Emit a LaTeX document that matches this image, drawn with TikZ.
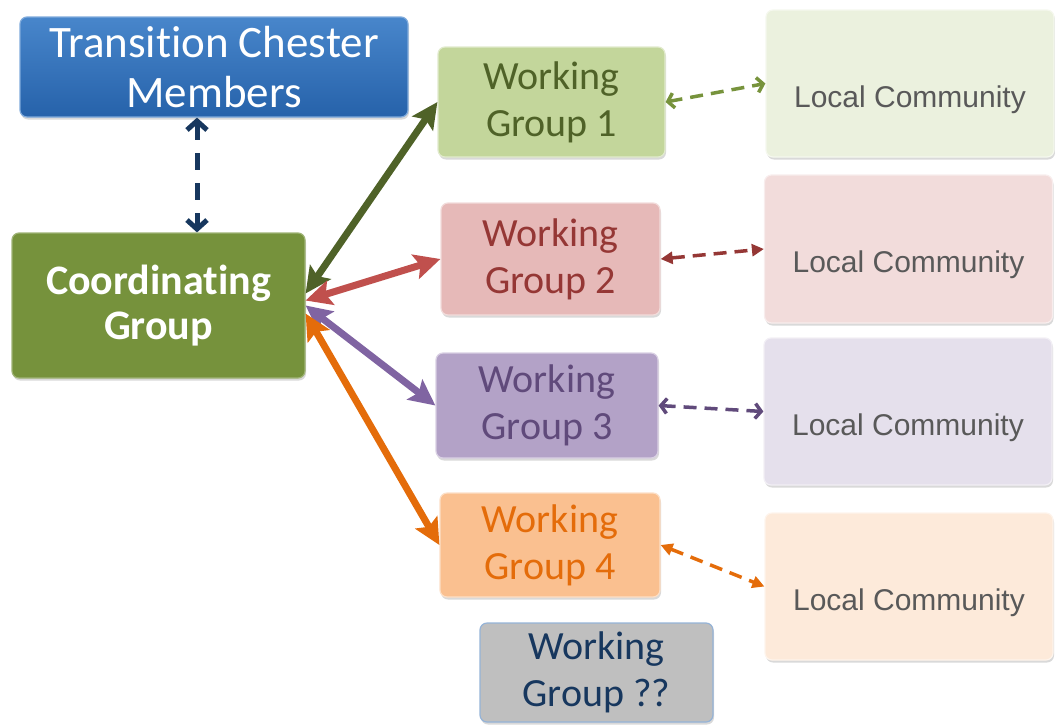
\documentclass[tikz,border=0pt]{standalone}
\usepackage{fontspec}
\setmainfont{Carlito}[Ligatures={NoCommon}]
\newfontfamily\lcfont{Liberation Sans}
\usetikzlibrary{arrows.meta,shadows}

% box colours
\definecolor{tctop}{RGB}{72,134,203}
\definecolor{tcbot}{RGB}{38,98,170}
\definecolor{cgfill}{RGB}{118,146,60}
\definecolor{wgafill}{RGB}{195,214,155}
\definecolor{wgbfill}{RGB}{230,185,184}
\definecolor{wgcfill}{RGB}{179,162,199}
\definecolor{wgdfill}{RGB}{250,192,144}
\definecolor{wgqfill}{RGB}{191,191,191}
\definecolor{wgqedge}{RGB}{149,179,215}
\definecolor{lcafill}{RGB}{235,241,222}
\definecolor{lcbfill}{RGB}{242,220,219}
\definecolor{lccfill}{RGB}{229,224,236}
\definecolor{lcdfill}{RGB}{253,234,218}
% text and line colours
\definecolor{olive}{RGB}{79,98,40}
\definecolor{leaf}{RGB}{119,147,60}
\definecolor{brick}{RGB}{192,80,77}
\definecolor{wine}{RGB}{149,55,53}
\definecolor{violet}{RGB}{128,100,162}
\definecolor{plum}{RGB}{96,74,123}
\definecolor{amber}{RGB}{228,108,10}
\definecolor{navy}{RGB}{23,55,94}
\definecolor{lcgrey}{RGB}{89,89,89}

\begin{document}
\begin{tikzpicture}[x=1pt, y=-1pt,
    box/.style={rectangle, rounded corners=7pt, inner sep=0pt, line width=1.2pt,
        drop shadow={shadow xshift=1pt, shadow yshift=-2.5pt, opacity=.3}},
    wgbox/.style={box, align=center, font=\fontsize{40}{47}\selectfont},
    lcbox/.style={box, minimum width=288pt, minimum height=147pt, text=lcgrey,
        font=\lcfont\fontsize{30}{36}\selectfont, text height=47pt, text depth=0pt},
    link/.style={line width=7pt, {Stealth[length=26pt,width=25pt,inset=5pt]}-{Stealth[length=26pt,width=25pt,inset=5pt]}},
    barb/.style={line width=3.5pt, dash pattern=on 13pt off 8pt,
        {Straight Barb[length=6pt,width=15pt]}-{Straight Barb[length=6pt,width=15pt]}},
    tri/.style={line width=3.5pt, dash pattern=on 13pt off 8pt,
        {Triangle[length=12pt,width=12pt]}-{Triangle[length=12pt,width=12pt]}}]
    \useasboundingbox (0,0) rectangle (1055,724);

    % Nodes
    \node[box, top color=tctop, bottom color=tcbot, draw=tctop!70!white,
        minimum width=388pt, minimum height=100pt, align=center, text=white,
        font=\fontsize{45}{50}\selectfont] (tcm) at (214,67) {Transition Chester\\Members};
    \node[box, fill=cgfill, draw=cgfill!70!white, minimum width=293pt, minimum height=145pt,
        align=center, text=white, font=\fontsize{42}{45}\selectfont\bfseries]
        (cg) at (158.5,305.5) {Coordinating\\Group};

    \node[wgbox, fill=wgafill, draw=wgafill!50!white, text=olive,
        minimum width=227pt, minimum height=110pt] (wg1) at (551.5,102) {Working\\Group 1};
    \node[wgbox, fill=wgbfill, draw=wgbfill!50!white, text=wine,
        minimum width=219pt, minimum height=112pt] (wg2) at (550.5,259) {Working\\Group 2};
    \node[wgbox, fill=wgcfill, draw=wgcfill!50!white, text=plum,
        minimum width=222pt, minimum height=105pt] (wg3) at (547,405.5) {Working\\Group 3};
    \node[wgbox, fill=wgdfill, draw=wgdfill!50!white, text=amber,
        minimum width=220pt, minimum height=104pt] (wg4) at (550,545) {Working\\Group 4};
    \node[wgbox, fill=wgqfill, draw=wgqedge, text=navy,
        minimum width=233pt, minimum height=99pt] (wgq) at (596.5,672.5) {Working\\Group ??};

    \node[lcbox, fill=lcafill, draw=lcafill!50!white] (lc1) at (910,83.5) {Local Community};
    \node[lcbox, fill=lcbfill, draw=lcbfill!50!white, minimum height=148pt] (lc2) at (908.5,249) {Local Community};
    \node[lcbox, fill=lccfill, draw=lccfill!50!white] (lc3) at (908,411.5) {Local Community};
    \node[lcbox, fill=lcdfill, draw=lcdfill!50!white] (lc4) at (909,586.5) {Local Community};

    % Arrows
    \draw[navy, line width=5pt, dash pattern=on 17pt off 13pt,
        {Straight Barb[length=9pt,width=20pt]}-{Straight Barb[length=9pt,width=20pt]}]
        ([xshift=-17pt]tcm.south) -- ([xshift=-17pt]tcm.south |- cg.north);
    \draw[link, olive] ([yshift=12pt]cg.east) -- (wg1.west);
    \draw[link, violet] (cg.east) -- (wg3.west);
    \draw[link, brick] ([yshift=5pt]cg.east) -- (wg2.west);
    \draw[link, amber] ([yshift=-8pt]cg.east) -- (wg4.west);

    % Dashed links to the communities
    \draw[barb, leaf] (wg1.east) -- (lc1.west);
    \draw[tri, wine] (wg2.east) -- (lc2.west);
    \draw[barb, plum] (wg3.east) -- (lc3.west);
    \draw[tri, amber] (wg4.east) -- (lc4.west);
\end{tikzpicture}
\end{document}
